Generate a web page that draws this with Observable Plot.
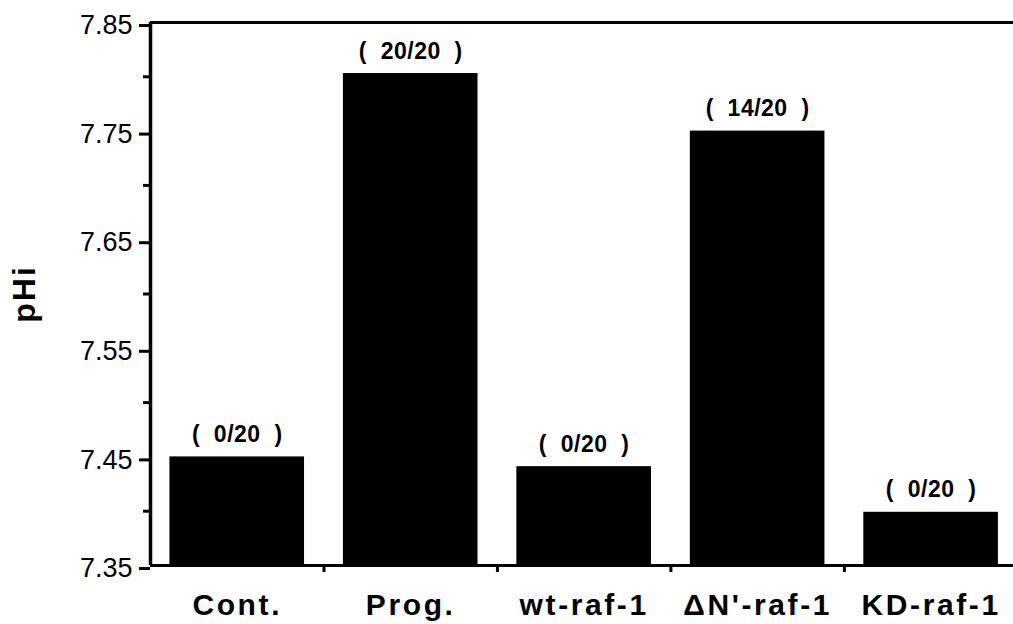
<!DOCTYPE html>
<html>
<head>
<meta charset="utf-8">
<script src="https://cdn.jsdelivr.net/npm/d3@7"></script>
<script src="https://cdn.jsdelivr.net/npm/@observablehq/plot@0.6"></script>
<style>
  html, body { margin: 0; padding: 0; background: #fff; }
  #chart svg { display: block; }
</style>
</head>
<body>
<div id="chart"></div>
<script>
const categories = ["Cont.", "Prog.", "wt-raf-1", "\u0394N'-raf-1", "KD-raf-1"];
const pHiValues = [7.45, 7.803, 7.441, 7.75, 7.399];
const counts = ["0/20", "20/20", "0/20", "14/20", "0/20"];
const yMajorTicks = [7.35, 7.45, 7.55, 7.65, 7.75, 7.85];
const yMinorTicks = [7.40, 7.50, 7.60, 7.70, 7.80];
const yDomain = [7.35, 7.85];
const yLabel = "pHi";

const idx = categories.map((_, i) => i);
const boundaries = idx.slice(1).map(i => i - 0.5);
const halfBar = 0.388;
const data = categories.map((c, i) => ({i, c, v: pHiValues[i], n: counts[i]}));
const nb = "\u00a0";
const countText = d => `(${nb}${nb}${d.n}${nb}${nb})`;
const font = "'Liberation Sans', Arial, Helvetica, sans-serif";

const chart = Plot.plot({
  width: 1013,
  height: 624,
  marginLeft: 150,
  marginRight: 0,
  marginTop: 22,
  marginBottom: 59,
  style: {fontFamily: font, background: "#fff", color: "#000", overflow: "visible"},
  x: {type: "linear", domain: [-0.5, 4.475], axis: null},
  y: {domain: yDomain, axis: null},
  marks: [
    Plot.rect(data, {x1: d => d.i - halfBar, x2: d => d.i + halfBar, y1: () => yDomain[0], y2: "v", fill: "#000"}),
    Plot.text(data, {x: "i", y: "v", text: countText, lineAnchor: "bottom", dy: -15,
      fontSize: 23, fontWeight: "bold", fill: "#000"}),
    Plot.ruleY([yDomain[1]], {strokeWidth: 3, stroke: "#000"}),
    Plot.ruleY([yDomain[0]], {strokeWidth: 3, stroke: "#000"}),
    Plot.ruleX([-0.5], {strokeWidth: 3.5, stroke: "#000"}),
    Plot.axisY({ticks: yMajorTicks, tickSize: 11, tickPadding: 7, strokeWidth: 3, fontSize: 27,
      tickFormat: d3.format(".2f"), dy: 3, label: null}),
    Plot.axisY({ticks: yMinorTicks, tickSize: 7, strokeWidth: 3, tickFormat: () => "", label: null}),
    Plot.axisX({ticks: boundaries, tickSize: 7, strokeWidth: 3, tickFormat: () => "", label: null}),
    Plot.axisX({ticks: idx, tickSize: 0, tickPadding: 28, tickFormat: i => categories[i], fontSize: 30,
      fontWeight: "bold", label: null}),
    Plot.text([yLabel], {frameAnchor: "left", rotate: -90, dx: -116, textAnchor: "middle", lineAnchor: "bottom",
      fontSize: 32, fontWeight: "bold", fill: "#000"})
  ]
});
const sel = d3.select(chart);
const countSet = new Set(data.map(countText));
sel.selectAll("text").each(function() {
  const t = this.textContent;
  if (categories.includes(t)) this.style.letterSpacing = "2.6px";
  else if (countSet.has(t)) this.style.letterSpacing = "0.5px";
  else if (t === yLabel) this.style.letterSpacing = "2px";
});
document.getElementById("chart").appendChild(chart);
</script>
</body>
</html>
